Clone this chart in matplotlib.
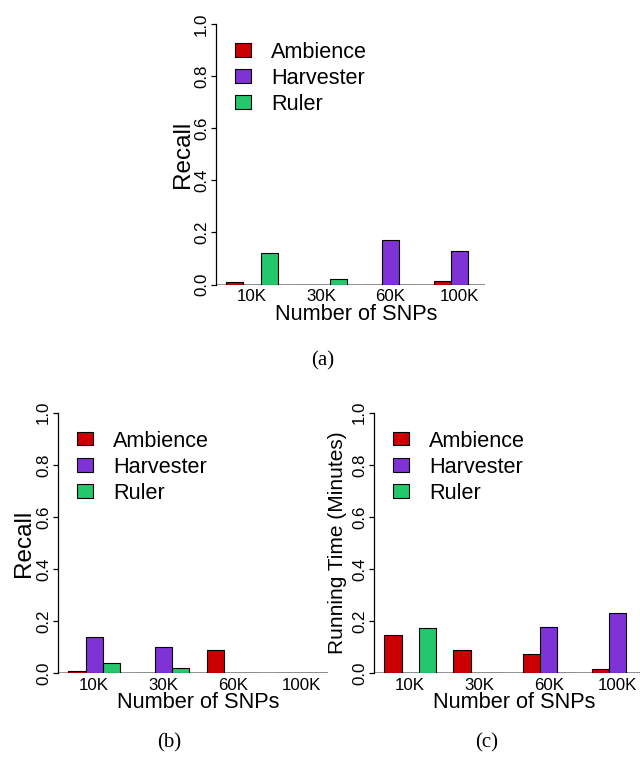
import numpy as np
import matplotlib
matplotlib.use("Agg")
import matplotlib.pyplot as plt
from matplotlib.patches import Rectangle

plt.rcParams['font.family'] = ['Liberation Sans', 'DejaVu Sans']

# ---- data ----
categories = ['10K', '30K', '60K', '100K']
series_names = ['Ambience', 'Harvester', 'Ruler']
series_colors = ['#CC0000', '#7F32D5', '#25C76C']

a_ambience = [0.010, 0.0, 0.0, 0.015]
a_harvester = [0.0, 0.0, 0.170, 0.130]
a_ruler = [0.120, 0.020, 0.0, 0.0]

b_ambience = [0.010, 0.0, 0.090, 0.0]
b_harvester = [0.140, 0.100, 0.0, 0.0]
b_ruler = [0.040, 0.020, 0.0, 0.0]

c_ambience = [0.147, 0.091, 0.073, 0.017]
c_harvester = [0.0, 0.0, 0.179, 0.230]
c_ruler = [0.172, 0.0, 0.0, 0.0]

y_ticks = [0.0, 0.2, 0.4, 0.6, 0.8, 1.0]
y_tick_labels = ['0.0', '0.2', '0.4', '0.6', '0.8', '1.0']

W, H = 640, 757
fig = plt.figure(figsize=(W / 100, H / 100), dpi=100)

PPU = 17.3            # pixels per bar unit
XMIN, XMAX = 0.4, 16.6


def make_axes(left_px, top_px, height_px):
    width_px = (XMAX - XMIN) * PPU
    return fig.add_axes([left_px / W, (H - top_px - height_px) / H,
                         width_px / W, height_px / H])


def panel(ax, series, ylabel, ylabel_size, ylabel_x):
    n = len(series)
    for j, (vals, col) in enumerate(zip(series, series_colors)):
        lefts = [1 + (n + 1) * i + j for i in range(len(categories))]
        ax.bar(lefts, vals, width=1, align='edge', color=col,
               edgecolor='black', linewidth=0.8, zorder=3)
    ax.hlines(0, XMIN, 16.0, color='#8c8c8c', linewidth=1.3, zorder=2)
    ax.set_xlim(XMIN, XMAX)
    ax.set_ylim(0, 1)
    for s in ['top', 'right', 'bottom']:
        ax.spines[s].set_visible(False)
    ax.spines['left'].set_bounds(0, 1)
    ax.spines['left'].set_linewidth(0.9)
    ax.set_yticks(y_ticks)
    ax.set_yticklabels(y_tick_labels, rotation=90, va='center', fontsize=12.2)
    ax.tick_params(axis='y', length=3.3, width=0.9, pad=1.5)
    centers = [1 + (n + 1) * i + n / 2 for i in range(len(categories))]
    ax.set_xticks(centers)
    ax.set_xticklabels(categories, fontsize=12.2)
    ax.tick_params(axis='x', length=0, pad=3.5)
    ax.set_xlabel('Number of SNPs', fontsize=15.7)
    ax.xaxis.set_label_coords(0.5, -0.073)
    ax.set_ylabel(ylabel, fontsize=ylabel_size)
    ax.yaxis.set_label_coords(ylabel_x, 0.5)
    # legend
    rows = [0.9, 0.8, 0.7]
    for name, col, yy in zip(series_names, series_colors, rows):
        ax.add_patch(Rectangle((1.5, yy - 0.0257), 0.925, 0.0514,
                               facecolor=col, edgecolor='black',
                               linewidth=0.8, clip_on=False, zorder=4))
        ax.text(3.61, yy - 0.030, name, fontsize=15.6, va='baseline',
                ha='left', zorder=4)


ax_a = make_axes(215.6, 24.0, 260.5)
panel(ax_a, [a_ambience, a_harvester, a_ruler], 'Recall', 17.5, -0.077)

ax_b = make_axes(57.9, 412.7, 260.6)
panel(ax_b, [b_ambience, b_harvester, b_ruler], 'Recall', 17.5, -0.083)

ax_c = make_axes(373.9, 412.7, 260.6)
panel(ax_c, [c_ambience, c_harvester, c_ruler], 'Running Time (Minutes)', 15.0, -0.096)

cap_kw = dict(fontsize=15, family=['Liberation Serif', 'DejaVu Serif'],
              ha='center', va='center')
fig.text(323 / W, 1 - 361 / H, '(a)', **cap_kw)
fig.text(169 / W, 1 - 743 / H, '(b)', **cap_kw)
fig.text(487 / W, 1 - 743 / H, '(c)', **cap_kw)

fig.savefig('out.png', dpi=100)
